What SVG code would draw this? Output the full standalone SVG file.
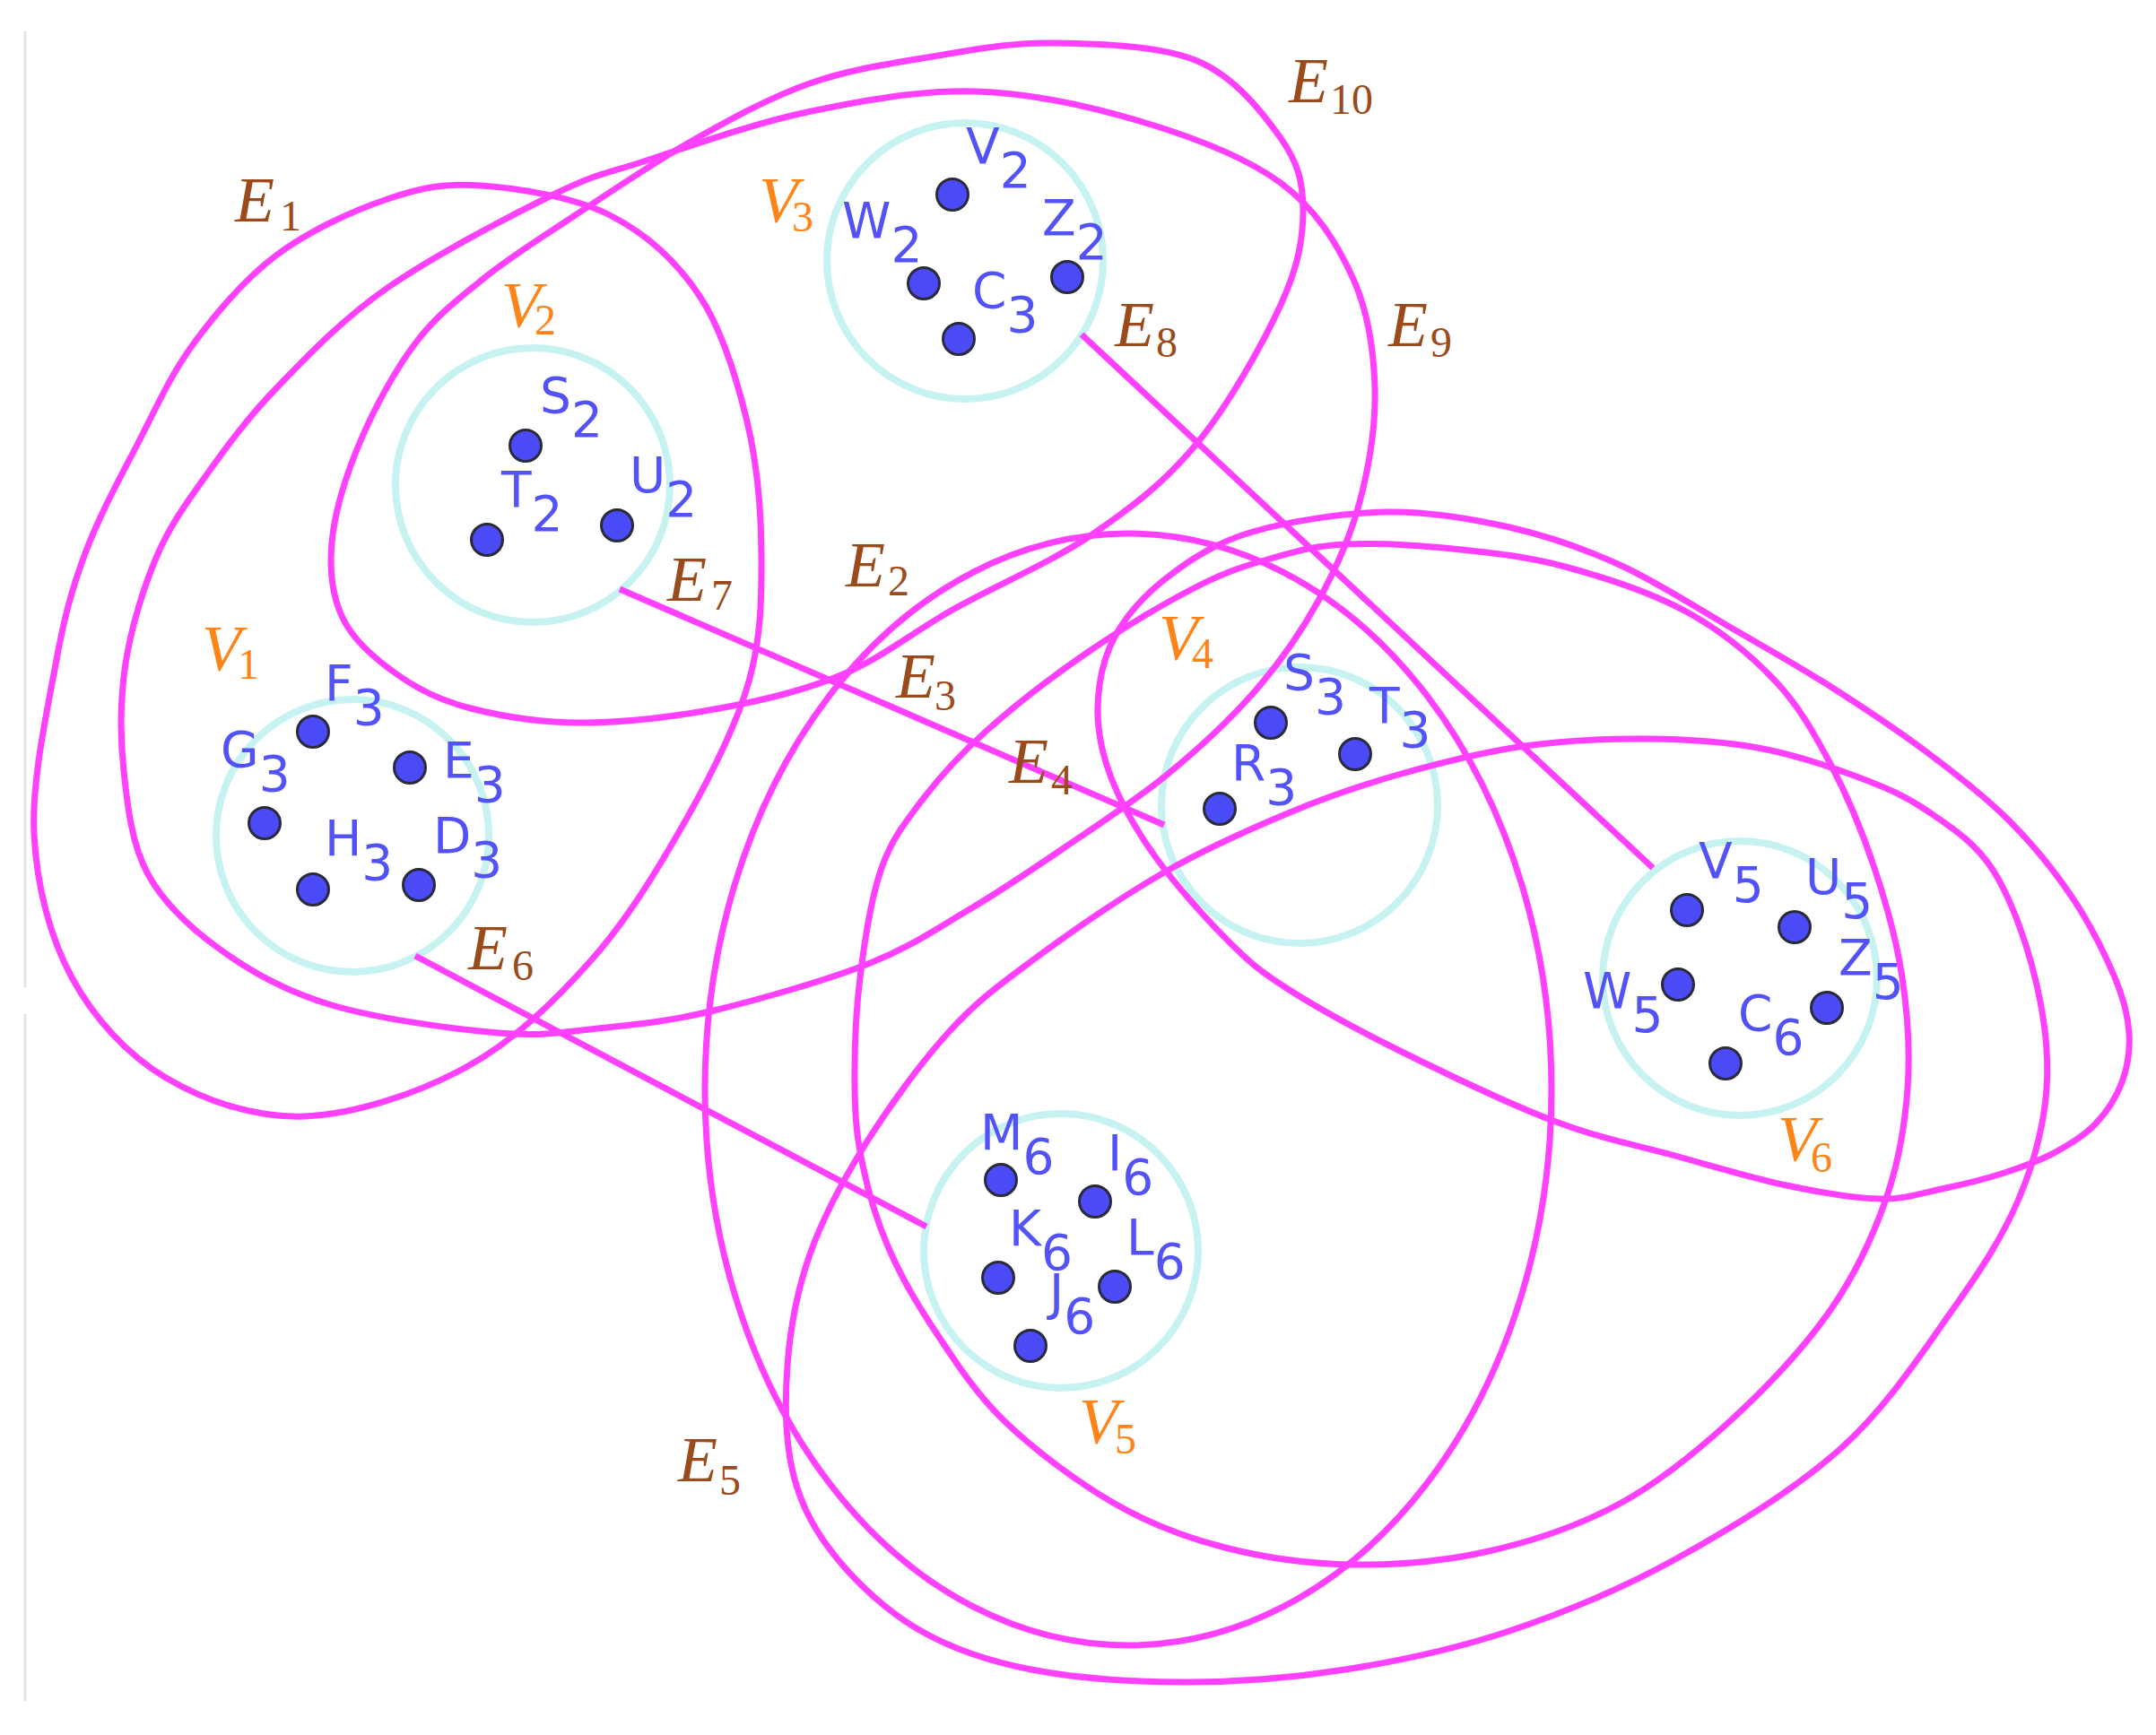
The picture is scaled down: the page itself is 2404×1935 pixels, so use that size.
<svg xmlns="http://www.w3.org/2000/svg" width="2404" height="1935" viewBox="0 0 2404 1935">
<style>
.edge{fill:none;stroke:#ff40ff;stroke-width:7}
.clu{fill:none;stroke:#c6f2f2;stroke-width:8}
.dot{fill:#4a4af6;stroke:#2a2a3a;stroke-width:3}
.vl{font-family:"DejaVu Sans",sans-serif;font-size:55px;fill:#5252f7}
.el{font-family:"Liberation Serif",serif;font-style:italic;font-size:72px;fill:#9b4a1c}
.cl{font-family:"Liberation Serif",serif;font-style:italic;font-size:72px;fill:#ff8418}
.sub{font-style:normal;font-size:48px}
</style>
<rect width="2404" height="1935" fill="#ffffff"/>
<path d="M28,35 V1101 M28,1131 V1897" stroke="#e4e4e4" stroke-width="3" fill="none"/>
<g id="V1">
<circle class="clu" cx="393" cy="932" r="152"/>
<text class="cl" x="225" y="747">V<tspan class="sub" x="265" y="757">1</tspan></text>
<circle class="dot" cx="349" cy="816" r="17.5"/><text class="vl" x="362" y="781">F<tspan dy="27">3</tspan></text>
<circle class="dot" cx="295" cy="918" r="17.5"/><text class="vl" x="246" y="855">G<tspan dy="27">3</tspan></text>
<circle class="dot" cx="457" cy="856" r="17.5"/><text class="vl" x="494" y="867">E<tspan dy="27">3</tspan></text>
<circle class="dot" cx="349" cy="992" r="17.5"/><text class="vl" x="362" y="954">H<tspan dy="27">3</tspan></text>
<circle class="dot" cx="467" cy="987" r="17.5"/><text class="vl" x="483" y="951">D<tspan dy="27">3</tspan></text>
</g>
<g id="V2">
<circle class="clu" cx="594" cy="541" r="153"/>
<text class="cl" x="559" y="364">V<tspan class="sub" x="596" y="373">2</tspan></text>
<circle class="dot" cx="586" cy="497" r="17.5"/><text class="vl" x="602" y="460">S<tspan dy="27">2</tspan></text>
<circle class="dot" cx="543" cy="602" r="17.5"/><text class="vl" x="559" y="565">T<tspan dy="27">2</tspan></text>
<circle class="dot" cx="688" cy="586" r="17.5"/><text class="vl" x="702" y="549">U<tspan dy="27">2</tspan></text>
</g>
<g id="V3">
<circle class="clu" cx="1076" cy="291" r="154"/>
<text class="cl" x="846" y="247">V<tspan class="sub" x="883" y="258">3</tspan></text>
<circle class="dot" cx="1062" cy="217" r="17.5"/><text class="vl" x="1077" y="182">V<tspan dy="27">2</tspan></text>
<circle class="dot" cx="1030" cy="316" r="17.5"/><text class="vl" x="939" y="265">W<tspan dy="27">2</tspan></text>
<circle class="dot" cx="1190" cy="309" r="17.5"/><text class="vl" x="1162" y="262">Z<tspan dy="27">2</tspan></text>
<circle class="dot" cx="1069" cy="378" r="17.5"/><text class="vl" x="1084" y="343">C<tspan dy="27">3</tspan></text>
</g>
<g id="V4">
<circle class="clu" cx="1449" cy="898" r="154"/>
<text class="cl" x="1292" y="735">V<tspan class="sub" x="1329" y="745">4</tspan></text>
<circle class="dot" cx="1417" cy="806" r="17.5"/><text class="vl" x="1431" y="769">S<tspan dy="27">3</tspan></text>
<circle class="dot" cx="1511" cy="841" r="17.5"/><text class="vl" x="1527" y="806">T<tspan dy="27">3</tspan></text>
<circle class="dot" cx="1360" cy="902" r="17.5"/><text class="vl" x="1373" y="870">R<tspan dy="27">3</tspan></text>
</g>
<g id="V5">
<circle class="clu" cx="1183" cy="1395" r="153"/>
<text class="cl" x="1203" y="1609">V<tspan class="sub" x="1243" y="1621">5</tspan></text>
<circle class="dot" cx="1116" cy="1316" r="17.5"/><text class="vl" x="1093" y="1282">M<tspan dy="27">6</tspan></text>
<circle class="dot" cx="1221" cy="1340" r="17.5"/><text class="vl" x="1235" y="1305">I<tspan dy="27">6</tspan></text>
<circle class="dot" cx="1113" cy="1425" r="17.5"/><text class="vl" x="1125" y="1389">K<tspan dy="27">6</tspan></text>
<circle class="dot" cx="1243" cy="1435" r="17.5"/><text class="vl" x="1256" y="1399">L<tspan dy="27">6</tspan></text>
<circle class="dot" cx="1149" cy="1501" r="17.5"/><text class="vl" x="1170" y="1460">J<tspan dy="27">6</tspan></text>
</g>
<g id="V6">
<circle class="clu" cx="1940" cy="1091" r="153"/>
<text class="cl" x="1982" y="1294">V<tspan class="sub" x="2019" y="1307">6</tspan></text>
<circle class="dot" cx="1881" cy="1015" r="17.5"/><text class="vl" x="1894" y="979">V<tspan dy="27">5</tspan></text>
<circle class="dot" cx="2001" cy="1034" r="17.5"/><text class="vl" x="2013" y="997">U<tspan dy="27">5</tspan></text>
<circle class="dot" cx="2037" cy="1124" r="17.5"/><text class="vl" x="2050" y="1087">Z<tspan dy="27">5</tspan></text>
<circle class="dot" cx="1871" cy="1098" r="17.5"/><text class="vl" x="1765" y="1124">W<tspan dy="27">5</tspan></text>
<circle class="dot" cx="1924" cy="1186" r="17.5"/><text class="vl" x="1938" y="1149">C<tspan dy="27">6</tspan></text>
</g>
<g id="connectors">
<path id="E1" class="edge" d="M537,207 C578.3,210 639.5,219.5 680,240 C720.5,260.5 754.5,291.7 780,330 C805.5,368.3 821.5,422.2 833,470 C844.5,517.8 848.7,568.7 849,617 C849.3,665.3 849,710.5 835,760 C821,809.5 794.2,862.3 765,914 C735.8,965.7 700.8,1024 660,1070 C619.2,1116 573.3,1160.8 520,1190 C466.7,1219.2 395.8,1243 340,1245 C284.2,1247 228.3,1227.8 185,1202 C141.7,1176.2 104.5,1135.3 80,1090 C55.5,1044.7 41,988.2 38,930 C35,871.8 52.5,793.2 62,741 C71.5,688.8 79.7,658.2 95,617 C110.3,575.8 133.8,533 154,494 C174.2,455 190.2,418 216,383 C241.8,348 273,310.8 309,284 C345,257.2 394,234.8 432,222 C470,209.2 495.7,204 537,207 Z"/>
<ellipse id="E2" class="edge" cx="1258" cy="1215" rx="472" ry="620"/>
<path id="E3" class="edge" d="M1500,607 C1533.3,605.3 1579.2,607.8 1620,612 C1660.8,616.2 1701.7,620.3 1745,632 C1788.3,643.7 1841,660.8 1880,682 C1919,703.2 1952.2,730.7 1979,759 C2005.8,787.3 2022.5,817.2 2041,852 C2059.5,886.8 2076.7,928.3 2090,968 C2103.3,1007.7 2114.8,1049 2121,1090 C2127.2,1131 2130,1172.8 2127,1214 C2124,1255.2 2117.3,1295.8 2103,1337 C2088.7,1378.2 2069.8,1419.8 2041,1461 C2012.2,1502.2 1969.2,1548 1930,1584 C1890.8,1620 1851,1652.7 1806,1677 C1761,1701.3 1709.7,1718.7 1660,1730 C1610.3,1741.3 1557,1745.7 1508,1745 C1459,1744.3 1410.2,1737.3 1366,1726 C1321.8,1714.7 1284.2,1700.7 1243,1677 C1201.8,1653.3 1153,1617 1119,1584 C1085,1551 1060.5,1511.3 1039,1479 C1017.5,1446.7 1002.8,1419.8 990,1390 C977.2,1360.2 968.2,1329.3 962,1300 C955.8,1270.7 953.5,1249 953,1214 C952.5,1179 954,1131 959,1090 C964,1049 971.2,1001.3 983,968 C994.8,934.7 1010.5,915.5 1030,890 C1049.5,864.5 1069.7,842 1100,815 C1130.3,788 1172.8,754.8 1212,728 C1251.2,701.2 1300.3,671.7 1335,654 C1369.7,636.3 1392.5,629.8 1420,622 C1447.5,614.2 1466.7,608.7 1500,607 Z"/>
<path id="E4" class="edge" d="M1547,571 C1594.7,570.2 1639.8,578.2 1683,588 C1726.2,597.8 1764.8,611.3 1806,630 C1847.2,648.7 1891,677.5 1930,700 C1969,722.5 2003.3,741.7 2040,765 C2076.7,788.3 2116.7,815 2150,840 C2183.3,865 2213.3,888.3 2240,915 C2266.7,941.7 2290.3,970.8 2310,1000 C2329.7,1029.2 2347.3,1064.7 2358,1090 C2368.7,1115.3 2372.7,1132.5 2374,1152 C2375.3,1171.5 2372.3,1190 2366,1207 C2359.7,1224 2348.7,1240.8 2336,1254 C2323.3,1267.2 2306.8,1277 2290,1286 C2273.2,1295 2255.8,1301.3 2235,1308 C2214.2,1314.7 2188.2,1321.2 2165,1326 C2141.8,1330.8 2124.8,1337.7 2096,1337 C2067.2,1336.3 2030,1330 1992,1322 C1954,1314 1911.3,1301 1868,1289 C1824.7,1277 1783.5,1269.7 1732,1250 C1680.5,1230.3 1608.3,1195.5 1559,1171 C1509.7,1146.5 1467.5,1123.2 1436,1103 C1404.5,1082.8 1394.3,1074.2 1370,1050 C1345.7,1025.8 1311.7,988 1290,958 C1268.3,928 1251,898 1240,870 C1229,842 1223.5,816.7 1224,790 C1224.5,763.3 1229.7,734.7 1243,710 C1256.3,685.3 1278.3,661.5 1304,642 C1329.7,622.5 1356.5,604.8 1397,593 C1437.5,581.2 1499.3,571.8 1547,571 Z"/>
<path id="E5" class="edge" d="M1837,824 C1880.3,824.3 1921.2,827 1960,834 C1998.8,841 2038.3,854.2 2070,866 C2101.7,877.8 2124.7,887.7 2150,905 C2175.3,922.3 2202.2,939.2 2222,970 C2241.8,1000.8 2259,1049.3 2269,1090 C2279,1130.7 2285,1172.8 2282,1214 C2279,1255.2 2268.5,1295.8 2251,1337 C2233.5,1378.2 2210,1414.7 2177,1461 C2144,1507.3 2104.5,1568.7 2053,1615 C2001.5,1661.3 1929.7,1705 1868,1739 C1806.3,1773 1744.3,1798.5 1683,1819 C1621.7,1839.5 1560,1852.5 1500,1862 C1440,1871.5 1381.3,1876 1323,1876 C1264.7,1876 1199.3,1871.5 1150,1862 C1100.7,1852.5 1063,1839.5 1027,1819 C991,1798.5 957.7,1767.8 934,1739 C910.3,1710.2 894.3,1682 885,1646 C875.7,1610 875,1564.2 878,1523 C881,1481.8 888.5,1440.2 903,1399 C917.5,1357.8 939.3,1317.2 965,1276 C990.7,1234.8 1026.2,1186 1057,1152 C1087.8,1118 1109.8,1101.8 1150,1072 C1190.2,1042.2 1250.3,1000.5 1298,973 C1345.7,945.5 1392.5,925.2 1436,907 C1479.5,888.8 1515,876.5 1559,864 C1603,851.5 1653.7,838.7 1700,832 C1746.3,825.3 1793.7,823.7 1837,824 Z"/>
<path id="E6" class="edge" d="M463,1066 L1033,1368"/>
<path id="E7" class="edge" d="M691,657 L1298,920"/>
<path id="E8" class="edge" d="M1206,373 L1843,968"/>
<path id="E9" class="edge" d="M1088,102 C1150.3,103.8 1217.3,119 1274,136 C1330.7,153 1389,175.2 1428,204 C1467,232.8 1490.5,271 1508,309 C1525.5,347 1531.7,390.2 1533,432 C1534.3,473.8 1526.5,520.3 1516,560 C1505.5,599.7 1489.3,635 1470,670 C1450.7,705 1428.3,737.5 1400,770 C1371.7,802.5 1336.7,835 1300,865 C1263.3,895 1217,924.8 1180,950 C1143,975.2 1113.3,995.2 1078,1016 C1042.7,1036.8 1015,1056.5 968,1075 C921,1093.5 844.7,1115.2 796,1127 C747.3,1138.8 716,1141.8 676,1146 C636,1150.2 607,1156.2 556,1152 C505,1147.8 421.5,1136.3 370,1121 C318.5,1105.7 281.2,1084.3 247,1060 C212.8,1035.7 183.2,1008.3 165,975 C146.8,941.7 142.2,899.2 138,860 C133.8,820.8 133.8,780 140,740 C146.2,700 160,655 175,620 C190,585 207.7,561.3 230,530 C252.3,498.7 275.3,466.8 309,432 C342.7,397.2 380.7,356.8 432,321 C483.3,285.2 569.3,240.5 617,217 C664.7,193.5 670.8,195.3 718,180 C765.2,164.7 838.3,138 900,125 C961.7,112 1025.7,100.2 1088,102 Z"/>
<path id="E10" class="edge" d="M1175,48 C1224.2,48.8 1292.8,50.3 1335,68 C1377.2,85.7 1408.3,126.2 1428,154 C1447.7,181.8 1453,204 1453,235 C1453,266 1447.7,296.8 1428,340 C1408.3,383.2 1370,451.3 1335,494 C1300,536.7 1263.2,565.2 1218,596 C1172.8,626.8 1110.3,653 1064,679 C1017.7,705 983.7,733.5 940,752 C896.3,770.5 850.7,781 802,790 C753.3,799 694.2,806 648,806 C601.8,806 559,798.8 525,790 C491,781.2 467.7,769.5 444,753 C420.3,736.5 395.3,715.7 383,691 C370.7,666.3 367,637.8 370,605 C373,572.2 385.5,531 401,494 C416.5,457 439.8,413.7 463,383 C486.2,352.3 510.5,333.7 540,310 C569.5,286.3 601.7,266.3 640,241 C678.3,215.7 726.2,182.7 770,158 C813.8,133.3 858,108.8 903,93 C948,77.2 994.7,70.5 1040,63 C1085.3,55.5 1125.8,47.2 1175,48 Z"/>
<text class="el" x="262" y="247">E<tspan class="sub" x="312" y="257">1</tspan></text>
<text class="el" x="943" y="654">E<tspan class="sub" x="990" y="664">2</tspan></text>
<text class="el" x="999" y="778">E<tspan class="sub" x="1042" y="792">3</tspan></text>
<text class="el" x="1125" y="873">E<tspan class="sub" x="1172" y="886">4</tspan></text>
<text class="el" x="756" y="1652">E<tspan class="sub" x="802" y="1667">5</tspan></text>
<text class="el" x="522" y="1081">E<tspan class="sub" x="571" y="1093">6</tspan></text>
<text class="el" x="744" y="670">E<tspan class="sub" x="793" y="680">7</tspan></text>
<text class="el" x="1243" y="386">E<tspan class="sub" x="1289" y="398">8</tspan></text>
<text class="el" x="1548" y="386">E<tspan class="sub" x="1595" y="398">9</tspan></text>
<text class="el" x="1437" y="114">E<tspan class="sub" x="1483" y="127">10</tspan></text>
</g>
</svg>
